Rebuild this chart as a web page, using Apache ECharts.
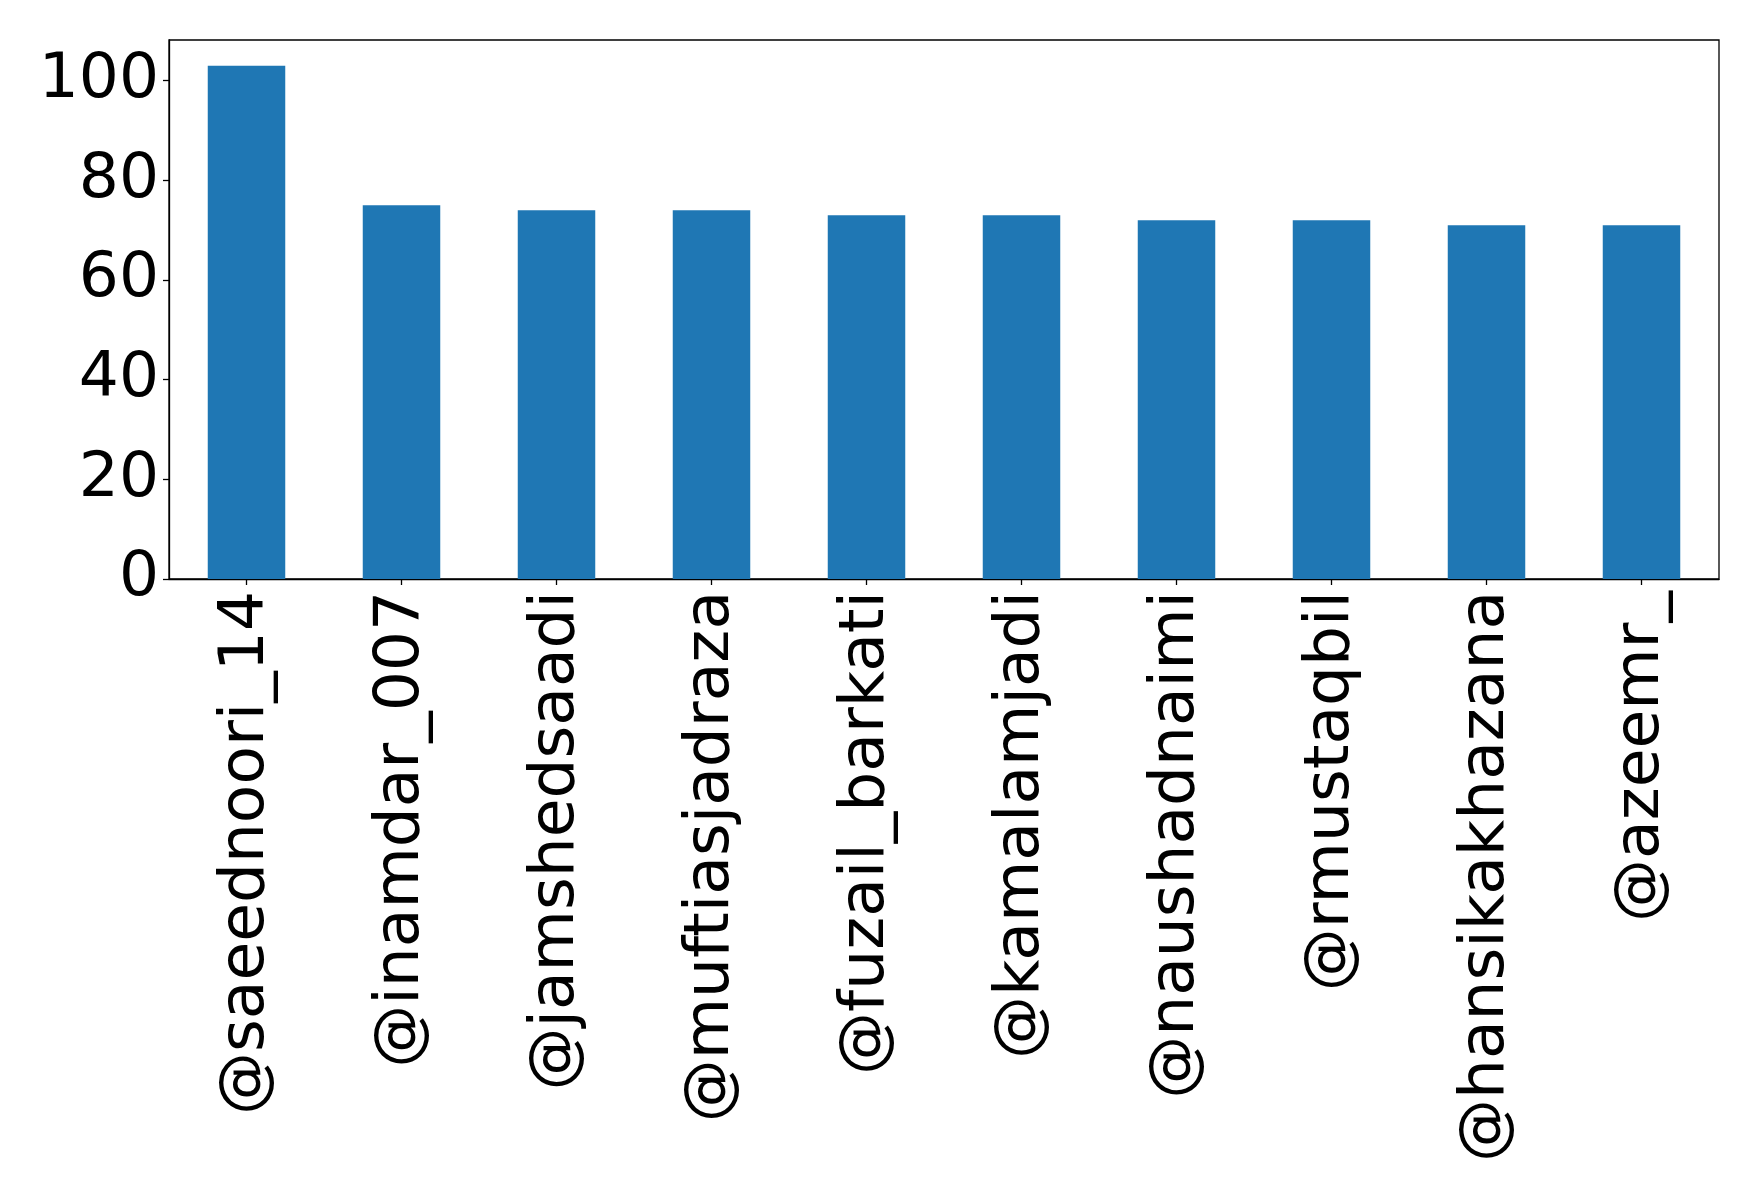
<!DOCTYPE html>
<html>
<head>
<meta charset="utf-8">
<script src="https://cdn.jsdelivr.net/npm/echarts@6/dist/echarts.min.js"></script>
<style>
html,body{margin:0;padding:0;background:#fff;}
#chart{width:1758px;height:1194px;}
</style>
</head>
<body>
<div id="chart"></div>
<script>
const categories = ['@saeednoori_14','@inamdar_007','@jamshedsaadi','@muftiasjadraza','@fuzail_barkati','@kamalamjadi','@naushadnaimi','@rmustaqbil','@hansikakhazana','@azeemr_'];
const values = [103, 75, 74, 74, 73, 73, 72, 72, 71, 71];
const yTicks = [0, 20, 40, 60, 80, 100];

const chart = echarts.init(document.getElementById('chart'), null, {renderer: 'canvas'});
chart.setOption({
  animation: false,
  backgroundColor: '#fff',
  textStyle: {fontFamily: 'DejaVu Sans'},
  grid: {left: 169, right: 39, top: 40, bottom: 615, containLabel: false,
         show: true, borderColor: '#000', borderWidth: 1.3, backgroundColor: 'transparent'},
  xAxis: {
    type: 'category',
    data: categories,
    boundaryGap: true,
    axisLine: {show: true, lineStyle: {color: '#000', width: 1.3}},
    axisTick: {show: true, alignWithLabel: true, length: 6, lineStyle: {color: '#000', width: 1.3}},
    axisLabel: {rotate: 90, margin: 12, fontSize: 63, color: '#000', fontFamily: 'DejaVu Sans', interval: 0},
    splitLine: {show: false}
  },
  yAxis: {
    type: 'value',
    min: 0,
    max: 108.15,
    interval: 20,
    axisLine: {show: true, lineStyle: {color: '#000', width: 1.3}},
    axisTick: {show: true, length: 6, lineStyle: {color: '#000', width: 1.3}, customValues: yTicks},
    axisLabel: {margin: 10, fontSize: 63, color: '#000', fontFamily: 'DejaVu Sans', customValues: yTicks},
    splitLine: {show: false}
  },
  series: [{
    type: 'bar',
    data: values,
    barWidth: '50%',
    itemStyle: {color: '#1f77b4'}
  }]
});
</script>
</body>
</html>
